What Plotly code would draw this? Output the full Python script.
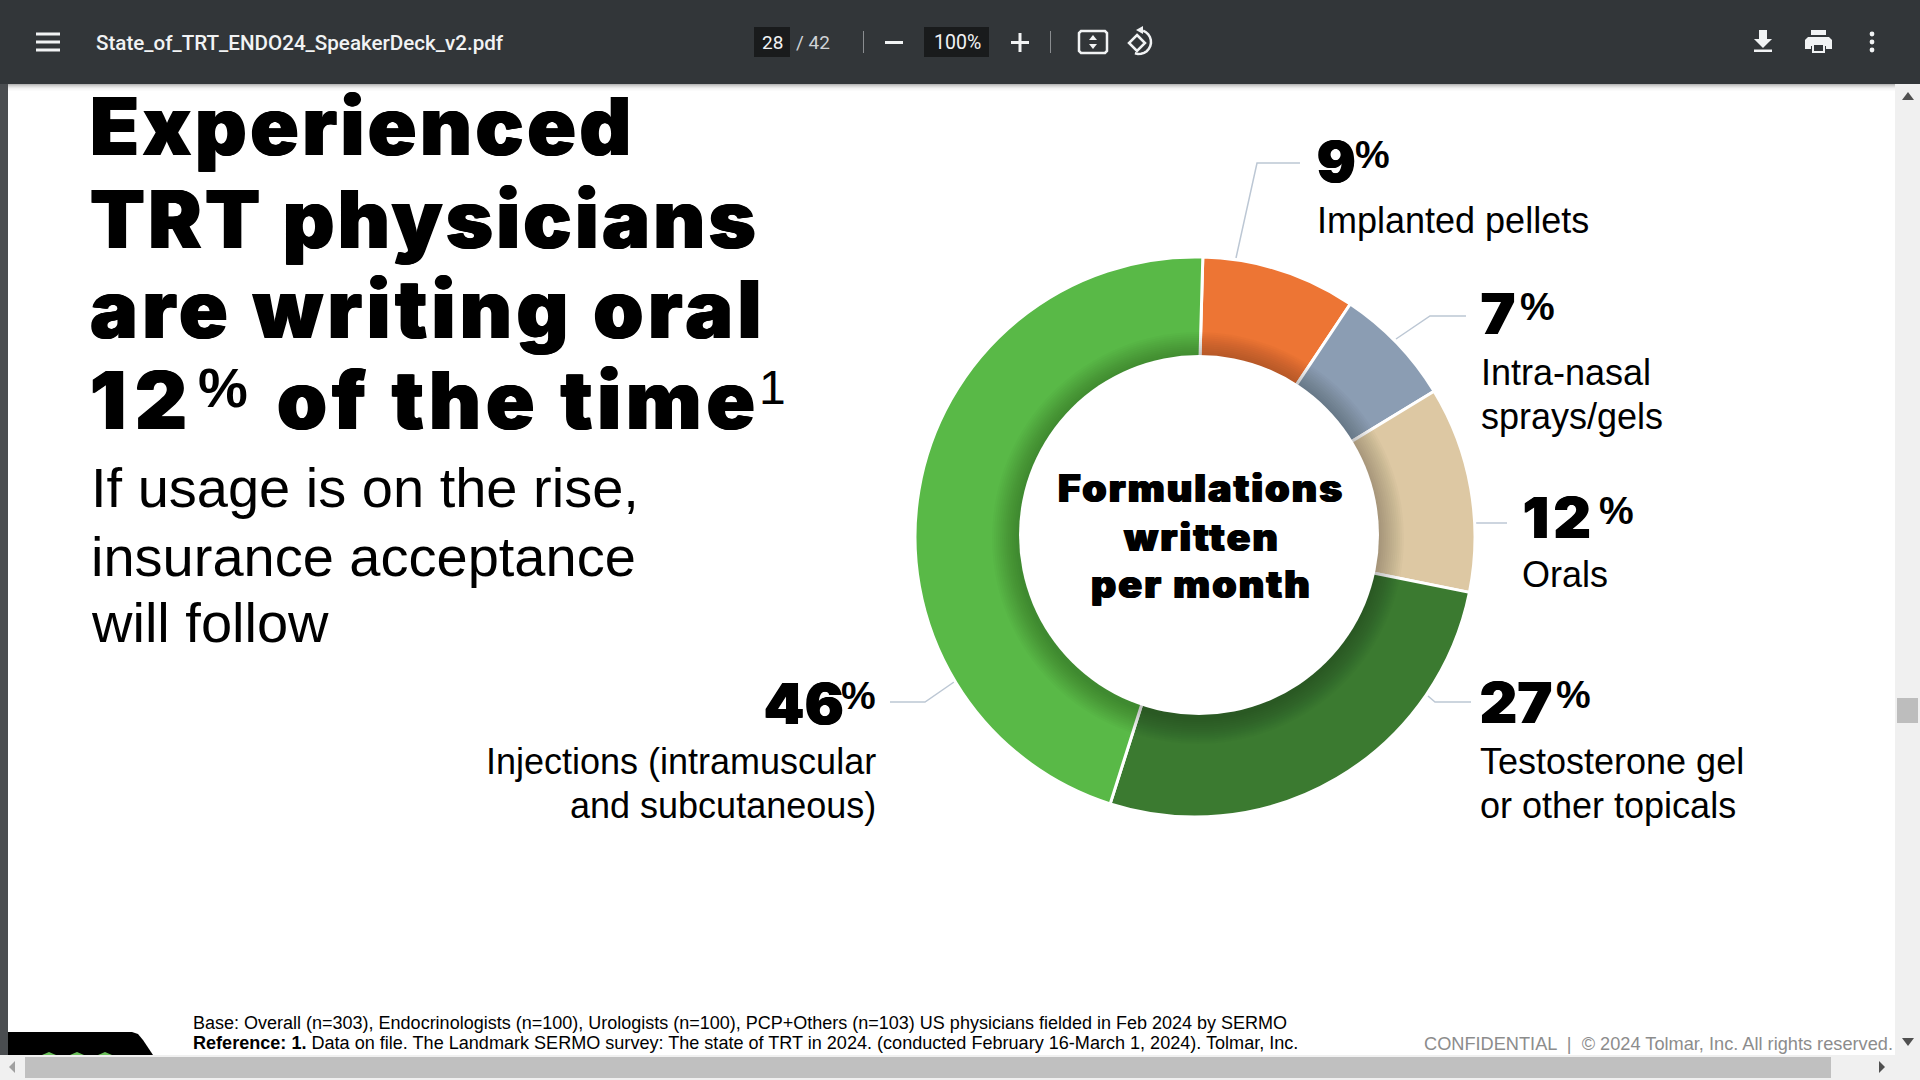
import numpy as np
import plotly.graph_objects as go

W, H = 1920, 1080

# donut data, clockwise from the top
labels = ["Implanted pellets", "Intra-nasal sprays/gels", "Orals",
          "Testosterone gel or other topicals", "Injections (intramuscular and subcutaneous)"]
values = [9, 7, 12, 27, 46]
colors = ["#ED7534", "#8B9DB3", "#DDC8A3", "#3B7A30", "#59B947"]

HEAVY = "Inter"
ARIAL = "Liberation Sans"
UI = "Roboto"
LEADER = "#BCC7D4"
BAR = "#323639"
FAT = "0.8px 0 0 #000, -0.8px 0 0 #000"

DC_X, DC_Y, DC_R = 1195, 537, 280
HOLE_X, HOLE_Y, HOLE_R = 1199, 535, 180


def px(x):
    return x / W


def py(y):
    return 1 - y / H


shapes = []
annotations = []
DESC = {ARIAL: 0.212, HEAVY: 0.242, UI: 0.244}


def rect(x0, y0, x1, y1, fill, layer="below"):
    shapes.append(dict(type="rect", xref="paper", yref="paper", x0=px(x0), x1=px(x1), y0=py(y0), y1=py(y1),
                       fillcolor=fill, line_width=0, layer=layer))


def poly(pts, fill=None, line=None, width=0, close=True):
    d = "M" + "L".join(f"{px(x):.5f},{py(y):.5f}" for x, y in pts) + ("Z" if close else "")
    shapes.append(dict(type="path", xref="paper", yref="paper", path=d, fillcolor=fill or "rgba(0,0,0,0)",
                       line=dict(color=line or "rgba(0,0,0,0)", width=width), layer="below"))


def circle(cx, cy, r, fill, layer="above"):
    shapes.append(dict(type="circle", xref="paper", yref="paper", x0=px(cx - r), x1=px(cx + r),
                       y0=py(cy - r), y1=py(cy + r), fillcolor=fill, line_width=0, layer=layer))


def text(x, base, s, size, font=ARIAL, color="#000000", anchor="left", weight=400, spacing=0, shadow="none"):
    if spacing:
        s = f'<span style="letter-spacing:{spacing}px">{s}</span>'
    annotations.append(dict(xref="paper", yref="paper", x=px(x), y=py(base + DESC[font] * size), text=s,
                            showarrow=False, xanchor=anchor, yanchor="bottom", borderpad=0, align=anchor,
                            font=dict(family=font, size=size, color=color, weight=weight, shadow=shadow)))


def heavy(x, base, s, size, spacing, anchor="left"):
    text(x, base, s, size, HEAVY, anchor=anchor, weight=900, spacing=spacing, shadow=FAT)


# viewer chrome
rect(0, 0, W, 84, BAR)
for i, a in enumerate([0.28, 0.2, 0.14, 0.09, 0.05, 0.03, 0.015]):
    rect(0, 84 + i, W, 85 + i, f"rgba(0,0,0,{a})")
rect(0, 84, 8, 1056, "#4A4D50")
rect(1895, 84, W, 1056, "#F0F0F0")
rect(1897, 698, 1918, 723, "#BDBDBD")
poly([(1902, 100), (1914, 100), (1908, 92)], fill="#505050")
poly([(1902, 1038), (1914, 1038), (1908, 1046)], fill="#505050")
rect(0, 1055, W, 1080, "#F0F0F0")
rect(25, 1057, 1831, 1078, "#C0C0C0")
poly([(15, 1061), (15, 1073), (9, 1067)], fill="#A0A0A0")
poly([(1879, 1061), (1879, 1073), (1885, 1067)], fill="#505050")

# footer logo corner
poly([(8, 1032), (132, 1032), (138, 1034), (143, 1040), (153, 1055), (8, 1055)], fill="#000000")
for lx in (49, 77, 105):
    poly([(lx - 7, 1055), (lx, 1052), (lx + 7, 1055)], fill="#6ABF5A")

# toolbar icons
for hy in (34, 42, 50):
    rect(36, hy - 1.5, 60, hy + 1.5, "#F1F3F4")
rect(754, 27, 790, 57, "#191B1C")
rect(924, 27, 989, 57, "#191B1C")
rect(863, 31, 864, 53, "#8A8D90")
rect(1050, 31, 1051, 53, "#8A8D90")
rect(885, 41, 903, 44, "#F1F3F4")
rect(1011, 41, 1029, 44, "#F1F3F4")
rect(1018.5, 33, 1021.5, 52, "#F1F3F4")
poly([(1081, 31), (1105, 31), (1107, 33), (1107, 51), (1105, 53), (1081, 53), (1079, 51), (1079, 33)],
     line="#F1F3F4", width=2.5)
poly([(1089, 40), (1097, 40), (1093, 35)], fill="#F1F3F4")
poly([(1089, 44), (1097, 44), (1093, 49)], fill="#F1F3F4")
poly([(1137, 35), (1145, 43), (1137, 51), (1129, 43)], line="#F1F3F4", width=2.5)
ang = np.radians(np.arange(-70, 125, 15))
poly([(1139 + 12 * np.cos(t), 42 + 12 * np.sin(t)) for t in ang], line="#F1F3F4", width=2.5, close=False)
poly([(1143, 26), (1143, 34), (1136, 30)], fill="#F1F3F4")
poly([(1759, 30), (1767, 30), (1767, 39), (1772, 39), (1763, 48), (1754, 39), (1759, 39)], fill="#F1F3F4")
rect(1754, 49.5, 1772, 52, "#F1F3F4")
rect(1811, 30, 1826, 35, "#F1F3F4")
poly([(1808, 37), (1829, 37), (1832, 40), (1832, 49), (1826, 49), (1826, 46), (1811, 46), (1811, 49), (1805, 49),
      (1805, 40)], fill="#F1F3F4")
rect(1812, 45, 1825, 53, "#F1F3F4")
rect(1814, 45, 1823, 51, BAR)
for dy in (34, 42, 50):
    circle(1872, dy, 2.4, "#F1F3F4", layer="below")

text(95, 51, "State_of_TRT_ENDO24_SpeakerDeck_v2.pdf", 20.6, UI, "#F1F3F4", weight=500)
text(772, 50, "28", 19, UI, "#F1F3F4", anchor="center")
text(795, 50, "/ 42", 19, UI, "#D0D3D6")
text(957, 50, "100%", 19.5, UI, "#F1F3F4", anchor="center")

# headline
heavy(89, 156, "Experienced", 80, 3.6)
heavy(89, 249, "TRT physicians", 80, 3.4)
heavy(89, 339, "are writing oral", 80, 4.6)
heavy(89, 430, "12", 80, 9)
text(197, 408, "%", 56, ARIAL, weight=700)
heavy(276, 430, "of the time", 80, 5)
text(758, 405, "1", 48, ARIAL)

text(90, 508, "If usage is on the rise,", 56)
text(90, 577, "insurance acceptance", 56)
text(90, 643, "will follow", 56)

# donut labels
LEADERS = [
    [(1236, 258), (1257, 163), (1300, 163)],
    [(1396, 339), (1430, 316), (1466, 316)],
    [(1476, 523), (1507, 523)],
    [(1428, 696), (1435, 702), (1471, 702)],
    [(954, 682), (925, 702), (890, 702)],
]
for seg in LEADERS:
    poly(seg, line=LEADER, width=1.5, close=False)

pct = [
    ("9", 1316, 183, 1354, 169, 1),
    ("7", 1480, 335, 1519, 321, 1),
    ("12", 1522, 539, 1598, 525, 5),
    ("27", 1479, 724, 1555, 709, 1),
    ("46", 763, 725, 840, 710, 1),
]
for s, x, base, px_x, px_base, sp in pct:
    text(x, base, s, 57, HEAVY, weight=900, spacing=sp, shadow=FAT)
    text(px_x, px_base, "%", 39, ARIAL, weight=700)

text(1316, 234, "Implanted pellets", 36)
text(1480, 386, "Intra-nasal", 36)
text(1480, 430, "sprays/gels", 36)
text(1521, 588, "Orals", 36)
text(1479, 775, "Testosterone gel", 36)
text(1479, 819, "or other topicals", 36)
text(877, 775, "Injections (intramuscular", 36, anchor="right")
text(877, 819, "and subcutaneous)", 36, anchor="right")

heavy(1201, 503, "Formulations", 39, 2.2, anchor="center")
heavy(1201, 552, "written", 39, 2.2, anchor="center")
heavy(1201, 599, "per month", 39, 2.2, anchor="center")

# footer
text(192, 1030, "Base: Overall (n=303), Endocrinologists (n=100), Urologists (n=100), PCP+Others (n=103) "
     "US physicians fielded in Feb 2024 by SERMO", 18)
text(192, 1050, "<b>Reference: 1.</b> Data on file. The Landmark SERMO survey: The state of TRT in 2024. "
     "(conducted February 16-March 1, 2024). Tolmar, Inc.", 18.07)
text(1894, 1051, "CONFIDENTIAL  |  © 2024 Tolmar, Inc. All rights reserved.", 18.2, color="#8C8C8C", anchor="right")

# soft shadow the hole casts on the ring, then the hole itself
for r in range(206, HOLE_R, -2):
    circle(HOLE_X - 1, HOLE_Y + 3, r, "rgba(0,0,0,0.019)")
circle(HOLE_X, HOLE_Y, HOLE_R, "#FFFFFF")

fig = go.Figure(
    go.Pie(
        labels=labels,
        values=values,
        hole=0.55,
        sort=False,
        direction="clockwise",
        rotation=1.6,
        marker=dict(colors=colors, line=dict(color="#FFFFFF", width=3)),
        textinfo="none",
        showlegend=False,
        hovertemplate="%{label}: %{value}%<extra></extra>",
        domain=dict(x=[px(DC_X - DC_R), px(DC_X + DC_R)], y=[py(DC_Y + DC_R), py(DC_Y - DC_R)]),
    )
)
fig.update_layout(
    width=W,
    height=H,
    margin=dict(l=0, r=0, t=0, b=0),
    paper_bgcolor="#FFFFFF",
    shapes=shapes,
    annotations=annotations,
)
fig.write_html("out.html", config=dict(displayModeBar=False),
               post_script="document.body.style.margin='0';document.body.style.overflow='hidden';")
